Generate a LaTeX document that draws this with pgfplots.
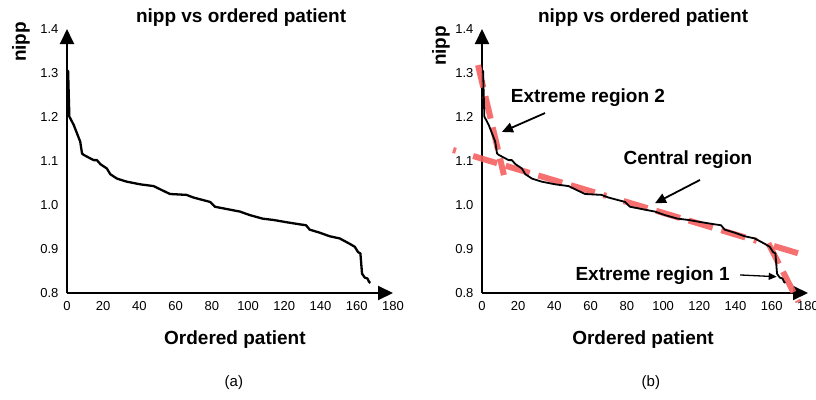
\documentclass[border=0pt]{standalone}
\usepackage{fontspec}
\setmainfont{Liberation Sans}
\usepackage{pgfplots}
\pgfplotsset{compat=1.18}
\usetikzlibrary{arrows.meta}
\definecolor{dashred}{RGB}{246,96,96}
\pgfplotstableread{
x y
0 1.305
0.6 1.305
1.3 1.201
1.8 1.197
3.7 1.182
5.5 1.163
7.3 1.144
8.3 1.117
9.2 1.114
11 1.110
14.7 1.102
16.5 1.102
18.4 1.093
22 1.083
23.9 1.070
27.6 1.060
33 1.053
40.4 1.047
47.8 1.043
53.3 1.032
56.9 1.025
66 1.023
69.8 1.017
79 1.007
81.7 0.996
88 0.991
95.5 0.985
101 0.977
108 0.969
114 0.966
121 0.961
128.6 0.956
132 0.954
134 0.944
139.6 0.937
145 0.929
150.6 0.924
156 0.912
158.9 0.905
160.7 0.893
162 0.890
162.9 0.844
164.4 0.835
165.9 0.833
166.8 0.825
167.5 0.823
}\nipp
\pgfplotsset{
  chartstyle/.style={
    scale only axis, width=326pt, height=264pt,
    xmin=0, xmax=180, ymin=0.8, ymax=1.4,
    axis lines=left,
    axis line style={line width=2pt, -{Triangle[length=15pt,width=14pt]}},
    xtick={0,20,...,180}, ytick={0.8,0.9,...,1.41},
    major tick length=0pt,
    tick style={draw=none},
    /pgf/number format/assume math mode=true,
    ticklabel style={font=\fontsize{13}{15}\selectfont},
    xticklabel style={yshift=-5pt},
    yticklabel style={xshift=-5pt, /pgf/number format/fixed, /pgf/number format/fixed zerofill, /pgf/number format/precision=1},
    scaled y ticks=false,
    clip=false,
    title style={font=\fontsize{19}{22}\selectfont\bfseries, anchor=center},
    xlabel style={font=\fontsize{19}{22}\selectfont\bfseries, anchor=center},
    ylabel style={font=\fontsize{19}{22}\selectfont\bfseries, anchor=center},
  }
}
\begin{document}
\begin{tikzpicture}
\useasboundingbox (0pt,0pt) rectangle (816pt,399pt);
% left chart
\begin{axis}[chartstyle, at={(67pt,106pt)}, anchor=south west,
  title={nipp vs ordered patient},
  title style={at={(axis description cs:0.534,1.022)}},
  xlabel={Ordered patient},
  xlabel style={at={(axis description cs:0.515,-0.178)}},
  ylabel={nipp},
  ylabel style={at={(axis description cs:-0.141,0.951)}},
]
\addplot[black, line width=2.3pt, line join=round] table {\nipp};
\node[font=\fontsize{15}{18}\selectfont] at (axis description cs:0.512,-0.341) {(a)};
\end{axis}
% right chart
\begin{axis}[chartstyle, at={(482pt,106pt)}, anchor=south west,
  title={nipp vs ordered patient},
  title style={at={(axis description cs:0.494,1.022)}},
  xlabel={Ordered patient},
  xlabel style={at={(axis description cs:0.494,-0.178)}},
  ylabel={nipp},
  ylabel style={at={(axis description cs:-0.126,0.936)}},
]
\addplot[dashred, opacity=0.9, line width=6pt, dash pattern=on 23pt off 9pt] coordinates {(-2.2,1.318) (12.1,1.068)};
\addplot[dashred, opacity=0.9, line width=6pt, dash pattern=on 3pt off 18pt on 25pt off 9pt on 25pt off 9pt on 25pt off 9pt on 25pt off 9pt] coordinates {(-16,1.125) (175.6,0.889)};
\addplot[dashred, opacity=0.9, line width=6pt, dash pattern=on 23pt off 9pt] coordinates {(158.1,0.913) (174.7,0.780)};
\addplot[black, line width=1.8pt, line join=round] table {\nipp};
\node[font=\fontsize{19}{22}\selectfont\bfseries] at (axis cs:58.5,1.243) {Extreme region 2};
\node[font=\fontsize{19}{22}\selectfont\bfseries] at (axis cs:113.7,1.102) {Central region};
\node[font=\fontsize{19}{22}\selectfont\bfseries] at (axis cs:94.2,0.839) {Extreme region 1};
\draw[line width=1.8pt, -{Triangle[length=11pt,width=10pt]}] (axis cs:34.8,1.209) -- (axis cs:11.0,1.166);
\draw[line width=1.8pt, -{Triangle[length=11pt,width=10pt]}] (axis cs:120.4,1.057) -- (axis cs:95.5,1.004);
\draw[line width=1.3pt, -{Triangle[length=8pt,width=7pt]}] (axis cs:142.5,0.841) -- (axis cs:162.7,0.837);
\node[font=\fontsize{15}{18}\selectfont] at (axis description cs:0.518,-0.341) {(b)};
\end{axis}
\end{tikzpicture}
\end{document}
